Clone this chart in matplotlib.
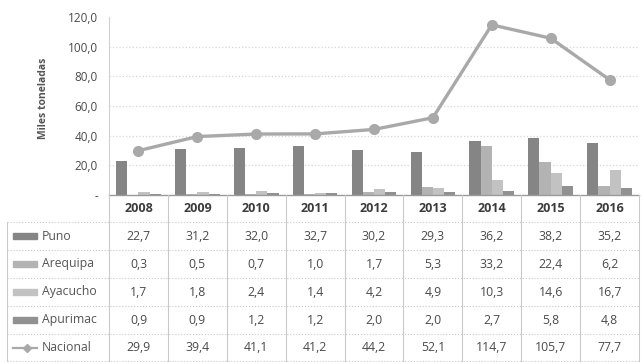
import matplotlib
matplotlib.use("Agg")
import matplotlib.pyplot as plt
import numpy as np
from matplotlib.patches import Rectangle

plt.rcParams.update({
    "font.family": ["Open Sans", "DejaVu Sans"],
    "font.size": 8.5,
})

years = ["2008", "2009", "2010", "2011", "2012", "2013", "2014", "2015", "2016"]
regions = ["Puno", "Arequipa", "Ayacucho", "Apurimac"]
puno = [22.7, 31.2, 32.0, 32.7, 30.2, 29.3, 36.2, 38.2, 35.2]
arequipa = [0.3, 0.5, 0.7, 1.0, 1.7, 5.3, 33.2, 22.4, 6.2]
ayacucho = [1.7, 1.8, 2.4, 1.4, 4.2, 4.9, 10.3, 14.6, 16.7]
apurimac = [0.9, 0.9, 1.2, 1.2, 2.0, 2.0, 2.7, 5.8, 4.8]
nacional = [29.9, 39.4, 41.1, 41.2, 44.2, 52.1, 114.7, 105.7, 77.7]
yticks = [0, 20, 40, 60, 80, 100, 120]
ytick_labels = ["-", "20,0", "40,0", "60,0", "80,0", "100,0", "120,0"]

bar_colors = ["#858585", "#b3b3b3", "#c2c2c2", "#919191"]
line_color = "#a9a9a9"
text_color = "#4a4a4a"


def fmt(v):
    return f"{v:.1f}".replace(".", ",")


W, H = 642, 362
fig = plt.figure(figsize=(W / 100, H / 100), dpi=100)

# chart area (pixel layout of the reference)
x0, x1, ytop, ybot = 109, 639, 17, 195
ax = fig.add_axes([x0 / W, 1 - ybot / H, (x1 - x0) / W, (ybot - ytop) / H])

x = np.arange(len(years))
bw = 0.19
series = [puno, arequipa, ayacucho, apurimac]
for i, (vals, c) in enumerate(zip(series, bar_colors)):
    ax.bar(x + (i - 1.5) * bw, vals, bw, color=c, zorder=2)

ax.plot(x, nacional, color=line_color, linewidth=2.4, marker="o",
        markersize=7, zorder=3)

ax.set_xlim(-0.5, len(years) - 0.5)
ax.set_ylim(0, 120)
ax.set_yticks(yticks)
ax.set_yticklabels(ytick_labels, color=text_color, fontsize=8.5)
ax.tick_params(axis="y", length=0, pad=8)
ax.set_xticks([])
for v in yticks[1:-1]:
    ax.axhline(v, color="#d6d6d6", linestyle=":", linewidth=0.9, zorder=1)
for s in ["top", "right"]:
    ax.spines[s].set_visible(False)
ax.spines["left"].set_color("#d0d0d0")
ax.spines["left"].set_linewidth(0.8)
ax.spines["bottom"].set_color("#9a9a9a")
ax.spines["bottom"].set_linewidth(1.0)

fig.text(44 / W, 1 - 98 / H, "Miles toneladas", rotation=90, ha="center",
         va="center", fontsize=7.5, fontweight="bold", color="#555555")

# data table underneath
tax = fig.add_axes([0, 0, 1, 1 - ybot / H])
tax.set_xlim(0, W)
tax.set_ylim(H, ybot)
tax.axis("off")

colw = (x1 - x0) / len(years)
row_edges = [195, 222, 250, 278, 306, 334, 361]
grid_c = "#c9c9c9"

# header
for j, yr in enumerate(years):
    cx = x0 + colw * (j + 0.5)
    tax.text(cx, (row_edges[0] + row_edges[1]) / 2, yr, ha="center",
             va="center", fontsize=9, fontweight="bold", color="#3c3c3c")

rows = regions + ["Nacional"]
values = series + [nacional]
for r, (name, vals) in enumerate(zip(rows, values)):
    top, bot = row_edges[r + 1], row_edges[r + 2]
    cy = (top + bot) / 2
    if r < len(regions):
        tax.add_patch(Rectangle((13, cy - 3), 24, 6, color=bar_colors[r]))
    else:
        tax.plot([13, 37], [cy, cy], color=line_color, linewidth=1.6)
        tax.plot([27], [cy], marker="D", markersize=4, color=line_color)
    tax.text(42, cy, name, ha="left", va="center", fontsize=8.8,
             color="#555555")
    for j, v in enumerate(vals):
        cx = x0 + colw * (j + 0.5)
        tax.text(cx, cy, fmt(v), ha="center", va="center", fontsize=8.8,
                 color=text_color)

for yy in row_edges[1:]:
    tax.plot([7, x1], [yy, yy], color=grid_c, linewidth=0.8, linestyle=":")
tax.plot([7, 7], [row_edges[1], row_edges[-1]], color=grid_c, linewidth=0.8)
for j in range(len(years) + 1):
    xx = x0 + colw * j
    tax.plot([xx, xx], [row_edges[0], row_edges[-1]], color=grid_c,
             linewidth=0.8)

fig.savefig("out.png", dpi=100)
